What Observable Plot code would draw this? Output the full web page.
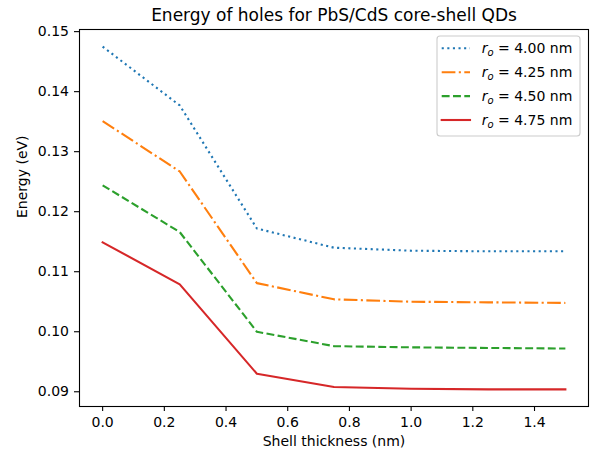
<!DOCTYPE html>
<html><head><meta charset="utf-8">
<script src="https://cdn.jsdelivr.net/npm/d3@7"></script>
<script src="https://cdn.jsdelivr.net/npm/@observablehq/plot@0.6"></script>
<style>body{margin:0;background:#fff;} svg{display:block;}</style>
</head><body><div id="chart"></div>
<script>
const title = "Energy of holes for PbS/CdS core-shell QDs";
const xLabel = "Shell thickness (nm)";
const yLabel = "Energy (eV)";
const thickness = [0, 0.25, 0.5, 0.75, 1.0, 1.25, 1.5];
const radii = ["4.00", "4.25", "4.50", "4.75"];
const e400 = [0.1475, 0.1377, 0.1172, 0.1140, 0.1135, 0.1134, 0.1134];
const e425 = [0.1351, 0.1267, 0.1081, 0.1054, 0.1050, 0.1049, 0.1048];
const e450 = [0.1244, 0.1166, 0.1000, 0.0976, 0.0974, 0.0973, 0.0972];
const e475 = [0.1149, 0.1079, 0.0930, 0.0908, 0.0905, 0.0904, 0.0904];
const xTicks = [0.0, 0.2, 0.4, 0.6, 0.8, 1.0, 1.2, 1.4];
const yTicks = [0.09, 0.10, 0.11, 0.12, 0.13, 0.14, 0.15];

const colors = ["#1f77b4", "#ff7f0e", "#2ca02c", "#d62728"];
const dashes = ["2.1,3.5", "13.7,3.4,2.1,3.4", "7.9,3.4", null];
const series = [e400, e425, e450, e475];
const rows = series.flatMap((s, i) => s.map((v, j) => ({x: thickness[j], y: v, k: i})));

function padded(ext) { const r = ext[1] - ext[0]; return [ext[0] - 0.05 * r, ext[1] + 0.05 * r]; }
const xDomain = padded(d3.extent(thickness));
const yDomain = padded(d3.extent(rows, d => d.y));

const lineMarks = series.map((s, i) => Plot.line(rows.filter(d => d.k === i), {
  x: "x", y: "y", stroke: colors[i], strokeWidth: 2.1,
  strokeDasharray: dashes[i] || undefined,
  strokeLinecap: i === 3 ? "square" : "butt", strokeLinejoin: "round"
}));

const svg = Plot.plot({
  width: 595, height: 454,
  marginTop: 29, marginRight: 7, marginBottom: 48, marginLeft: 79,
  style: {fontFamily: "DejaVu Sans", fontSize: "14px", color: "black", background: "white"},
  x: {domain: xDomain, inset: 0},
  y: {domain: yDomain, inset: 0},
  marks: [
    ...lineMarks,
    Plot.axisX({ticks: xTicks, tickFormat: d3.format(".1f"), tickSize: 5, tickPadding: 6, fontSize: 14, label: null, strokeWidth: 1.1}),
    Plot.axisY({ticks: yTicks, tickFormat: d3.format(".2f"), tickSize: 5, tickPadding: 5.5, fontSize: 14, label: null, strokeWidth: 1.1}),
    Plot.frame({stroke: "black", strokeWidth: 1.1}),
    Plot.text([title], {frameAnchor: "top", lineAnchor: "middle", dy: -13.7, fontSize: 17, text: d => d}),
    Plot.text([xLabel], {frameAnchor: "bottom", lineAnchor: "middle", dy: 35.5, fontSize: 14, text: d => d}),
    Plot.text([yLabel], {frameAnchor: "left", lineAnchor: "middle", dx: -56.5, rotate: -90, fontSize: 14, text: d => d})
  ]
});
document.getElementById("chart").appendChild(svg);

// legend
const lg = d3.select(svg).append("g").attr("font-family", "DejaVu Sans").attr("font-size", 14).attr("text-anchor", "start");
lg.append("rect").attr("x", 437).attr("y", 36).attr("width", 143).attr("height", 100)
  .attr("rx", 3).attr("fill", "white").attr("fill-opacity", 0.8)
  .attr("stroke", "#cccccc").attr("stroke-width", 1.1);
radii.forEach((r, i) => {
  const cy = 48.3 + i * 23.9;
  lg.append("line").attr("x1", 441.7).attr("x2", 470).attr("y1", cy).attr("y2", cy)
    .attr("stroke", colors[i]).attr("stroke-width", 2.1)
    .attr("stroke-dasharray", dashes[i])
    .attr("stroke-linecap", i === 3 ? "square" : "butt");
  const t = lg.append("text").attr("x", 481.7).attr("y", cy + 5).attr("fill", "black");
  t.append("tspan").attr("font-style", "italic").text("r");
  t.append("tspan").attr("font-style", "italic").attr("font-size", 10).attr("dy", 3).text("o");
  t.append("tspan").attr("dy", -3).text(" = " + r + " nm");
});
</script>
</body></html>
